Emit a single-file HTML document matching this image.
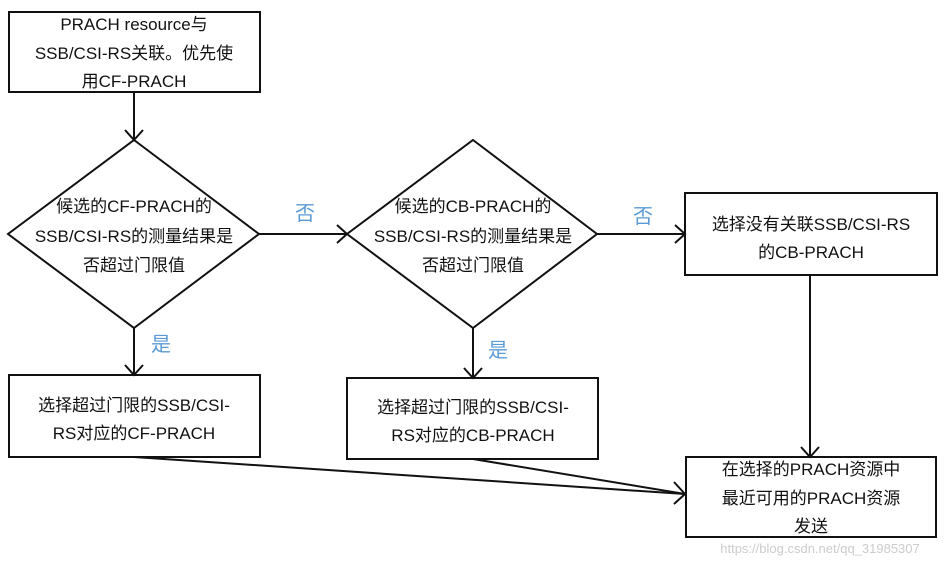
<!DOCTYPE html>
<html><head><meta charset="utf-8"><style>
html,body{margin:0;padding:0;background:#fff;}
svg{display:block;}
text{font-family:"Liberation Sans","Noto Sans CJK SC",sans-serif;font-size:17px;fill:#111;text-anchor:middle;}
.b{fill:#5b9bd5;font-size:20px;}
</style></head><body>
<svg width="946" height="562" viewBox="0 0 946 562" xmlns="http://www.w3.org/2000/svg">
<g stroke="#111" stroke-width="2" fill="none">
<rect x="9" y="12" width="251" height="80" fill="#fff"/>
<polygon points="134,140 259,234 134,328 8,234" fill="#fff"/>
<polygon points="473,140 597,234 473,328 347,234" fill="#fff"/>
<rect x="685" y="193" width="252" height="82" fill="#fff"/>
<rect x="9" y="375" width="251" height="82" fill="#fff"/>
<rect x="347" y="378" width="251" height="81" fill="#fff"/>
<rect x="686" y="457" width="250" height="80" fill="#fff"/>
<line x1="134" y1="92" x2="134" y2="139"/>
<polyline points="125,130 134,140 143,130"/>
<line x1="259" y1="234" x2="346" y2="234"/>
<polyline points="337,225 347,234 337,243"/>
<line x1="597" y1="234" x2="684" y2="234"/>
<polyline points="675,225 685,234 675,243"/>
<line x1="134" y1="328" x2="134" y2="374"/>
<polyline points="125,365 134,375 143,365"/>
<line x1="473" y1="328" x2="473" y2="377"/>
<polyline points="464,368 473,378 482,368"/>
<line x1="810" y1="275" x2="810" y2="456"/>
<polyline points="801,447 810,457 819,447"/>
<line x1="134" y1="457" x2="685" y2="494"/>
<line x1="473" y1="459" x2="685" y2="494"/>
<polyline points="674,482 685,494 674,504"/>
</g>
<text x="134" y="30">PRACH resource与</text>
<text x="134" y="59">SSB/CSI-RS关联。优先使</text>
<text x="134" y="87">用CF-PRACH</text>
<text x="134" y="212">候选的CF-PRACH的</text>
<text x="134" y="242">SSB/CSI-RS的测量结果是</text>
<text x="134" y="271">否超过门限值</text>
<text x="473" y="212">候选的CB-PRACH的</text>
<text x="473" y="242">SSB/CSI-RS的测量结果是</text>
<text x="473" y="271">否超过门限值</text>
<text x="811" y="230">选择没有关联SSB/CSI-RS</text>
<text x="811" y="258">的CB-PRACH</text>
<text x="134" y="411">选择超过门限的SSB/CSI-</text>
<text x="134" y="439">RS对应的CF-PRACH</text>
<text x="473" y="413">选择超过门限的SSB/CSI-</text>
<text x="473" y="441">RS对应的CB-PRACH</text>
<text x="811" y="475">在选择的PRACH资源中</text>
<text x="811" y="504">最近可用的PRACH资源</text>
<text x="811" y="532">发送</text>
<text class="b" x="305" y="220">否</text>
<text class="b" x="643" y="223">否</text>
<text class="b" x="161" y="351">是</text>
<text class="b" x="498" y="357">是</text>
<text x="820" y="553" style="font-size:13px;fill:#ccc">https://blog.csdn.net/qq_31985307</text>
</svg>
</body></html>
